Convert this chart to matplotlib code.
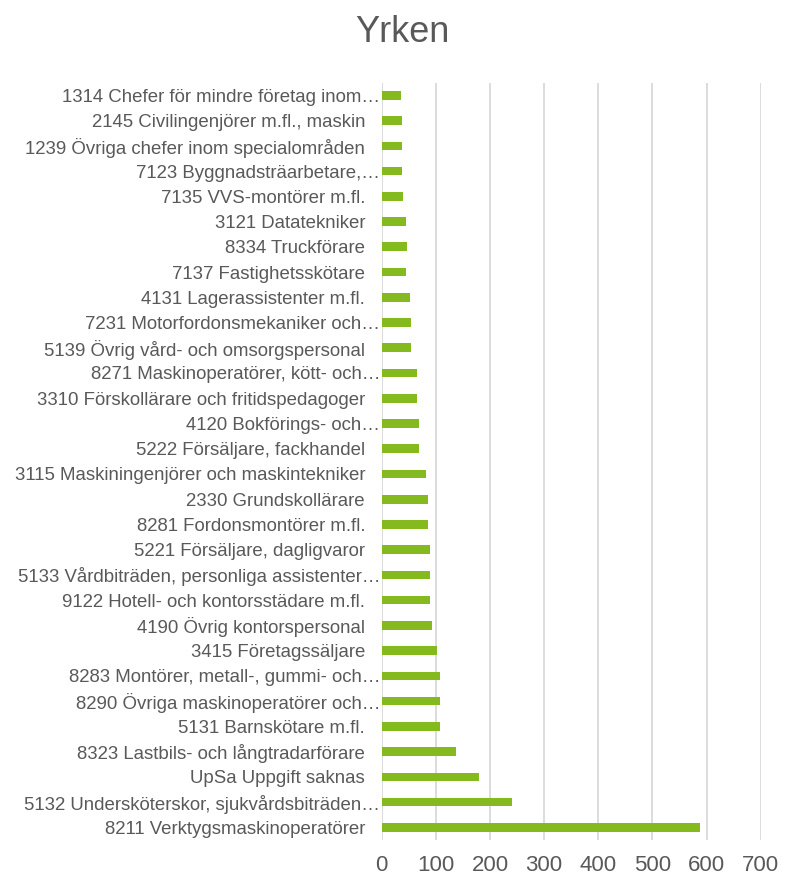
import matplotlib
matplotlib.use("Agg")
import matplotlib.pyplot as plt

categories = [
    "1314 Chefer för mindre företag inom…",
    "2145 Civilingenjörer m.fl., maskin",
    "1239 Övriga chefer inom specialområden",
    "7123 Byggnadsträarbetare,…",
    "7135 VVS-montörer m.fl.",
    "3121 Datatekniker",
    "8334 Truckförare",
    "7137 Fastighetsskötare",
    "4131 Lagerassistenter m.fl.",
    "7231 Motorfordonsmekaniker och…",
    "5139 Övrig vård- och omsorgspersonal",
    "8271 Maskinoperatörer, kött- och…",
    "3310 Förskollärare och fritidspedagoger",
    "4120 Bokförings- och…",
    "5222 Försäljare, fackhandel",
    "3115 Maskiningenjörer och maskintekniker",
    "2330 Grundskollärare",
    "8281 Fordonsmontörer m.fl.",
    "5221 Försäljare, dagligvaror",
    "5133 Vårdbiträden, personliga assistenter…",
    "9122 Hotell- och kontorsstädare m.fl.",
    "4190 Övrig kontorspersonal",
    "3415 Företagssäljare",
    "8283 Montörer, metall-, gummi- och…",
    "8290 Övriga maskinoperatörer och…",
    "5131 Barnskötare m.fl.",
    "8323 Lastbils- och långtradarförare",
    "UpSa Uppgift saknas",
    "5132 Undersköterskor, sjukvårdsbiträden…",
    "8211 Verktygsmaskinoperatörer",
]
values = [36, 37, 37, 37, 40, 44, 46, 45, 53, 54, 55, 65, 66, 68, 68,
          81, 85, 86, 89, 89, 90, 92, 102, 107, 108, 108, 137, 179, 241, 588]
xticks = [0, 100, 200, 300, 400, 500, 600, 700]
title = "Yrken"

plt.rcParams['font.family'] = ['Liberation Sans', 'DejaVu Sans']
text_color = '#595959'
grid_color = '#D9D9D9'
bar_color = '#84BA1E'

fig = plt.figure(figsize=(8.05, 8.8), dpi=100)
ax = fig.add_axes([381.7 / 805, 1 - 840 / 880, 379 / 805, (840 - 82.7) / 880])

ypos = list(range(len(categories)))
ax.barh(ypos, values, height=0.34, color=bar_color, zorder=3)
ax.set_ylim(len(categories) - 0.5, -0.5)
ax.set_xlim(0, 700)
ax.set_xticks(xticks)
ax.set_xticklabels([str(t) for t in xticks], fontsize=16, color=text_color)
ax.tick_params(axis='x', length=0, pad=11)
ax.set_yticks([])
for s in ax.spines.values():
    s.set_visible(False)
ax.grid(axis='x', color=grid_color, linewidth=1.3, zorder=0)

for i, lab in enumerate(categories):
    off = -1 if lab.endswith("…") else -12
    ax.annotate(lab, xy=(0, i), xycoords='data', xytext=(off, 0),
                textcoords='offset points', ha='right', va='center_baseline',
                fontsize=13.4, color=text_color, annotation_clip=False)

fig.text(0.5, 1 - 28 / 880, title, ha='center', va='center_baseline', fontsize=26, color=text_color)

fig.savefig("out.png", dpi=100)
